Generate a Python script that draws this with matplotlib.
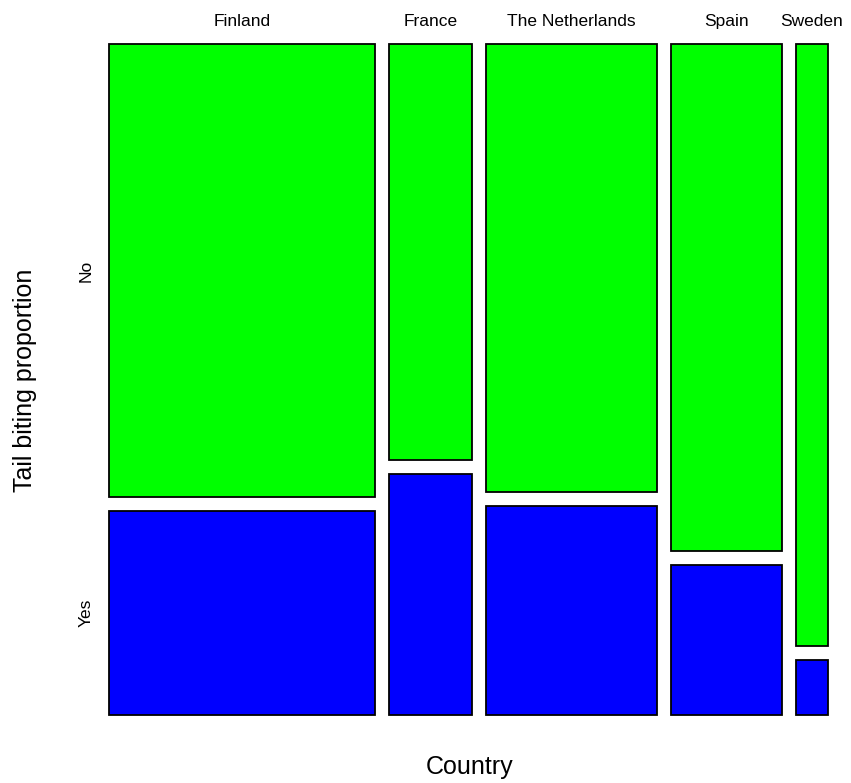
import matplotlib
matplotlib.use("Agg")
import matplotlib.pyplot as plt
import numpy as np

plt.rcParams['font.family'] = ['Liberation Sans', 'DejaVu Sans']

# mosaic data: share of each country in the sample, and share of "Yes" within it
countries = ["Finland", "France", "The Netherlands", "Spain", "Sweden"]
country_share = [0.401, 0.125, 0.259, 0.166, 0.049]
yes_prop = [0.310, 0.367, 0.318, 0.228, 0.084]
levels = ["Yes", "No"]

GAP_X = 14 / 663
GAP_Y = 14 / 657
PT = 0.72  # points per pixel at dpi 100


def main():
    fig = plt.figure(figsize=(8.51, 7.83), dpi=100)
    ax = fig.add_axes([109 / 851, 68 / 783, 719 / 851, 671 / 783])

    w = np.array(country_share) / sum(country_share)
    left = np.concatenate([[0], np.cumsum(w)[:-1]]) + np.arange(len(w)) * GAP_X
    yes = np.array(yes_prop)
    no = 1 - yes

    ax.bar(left, yes, width=w, align='edge', color='#0000ff',
           edgecolor='black', linewidth=1.3, clip_on=False)
    ax.bar(left, no, width=w, bottom=yes + GAP_Y, align='edge', color='#00ff00',
           edgecolor='black', linewidth=1.3, clip_on=False)

    ax.set_xlim(0, 1 + (len(w) - 1) * GAP_X)
    ax.set_ylim(0, 1 + GAP_Y)
    ax.axis('off')

    # country names above the columns
    for x0, wi, name in zip(left, w, countries):
        ax.annotate(name, (x0 + wi / 2, 1 + GAP_Y), xytext=(0, 23 * PT),
                    textcoords='offset points', ha='center', va='center',
                    fontsize=12.5)

    # level names beside the first column
    centers = [yes[0] / 2, yes[0] + GAP_Y + no[0] / 2]
    for yc, lab in zip(centers, levels):
        ax.annotate(lab, (0, yc), xytext=(-23 * PT, 0), textcoords='offset points',
                    ha='center', va='center', rotation=90, fontsize=12.5)

    fig.text(470 / 851, 1 - 767 / 783, "Country", ha='center', va='center', fontsize=18)
    fig.text(25 / 851, 1 - 380 / 783, "Tail biting proportion", ha='center',
             va='center', rotation=90, fontsize=18)

    fig.savefig("out.png", dpi=100)


if __name__ == '__main__':
    main()
